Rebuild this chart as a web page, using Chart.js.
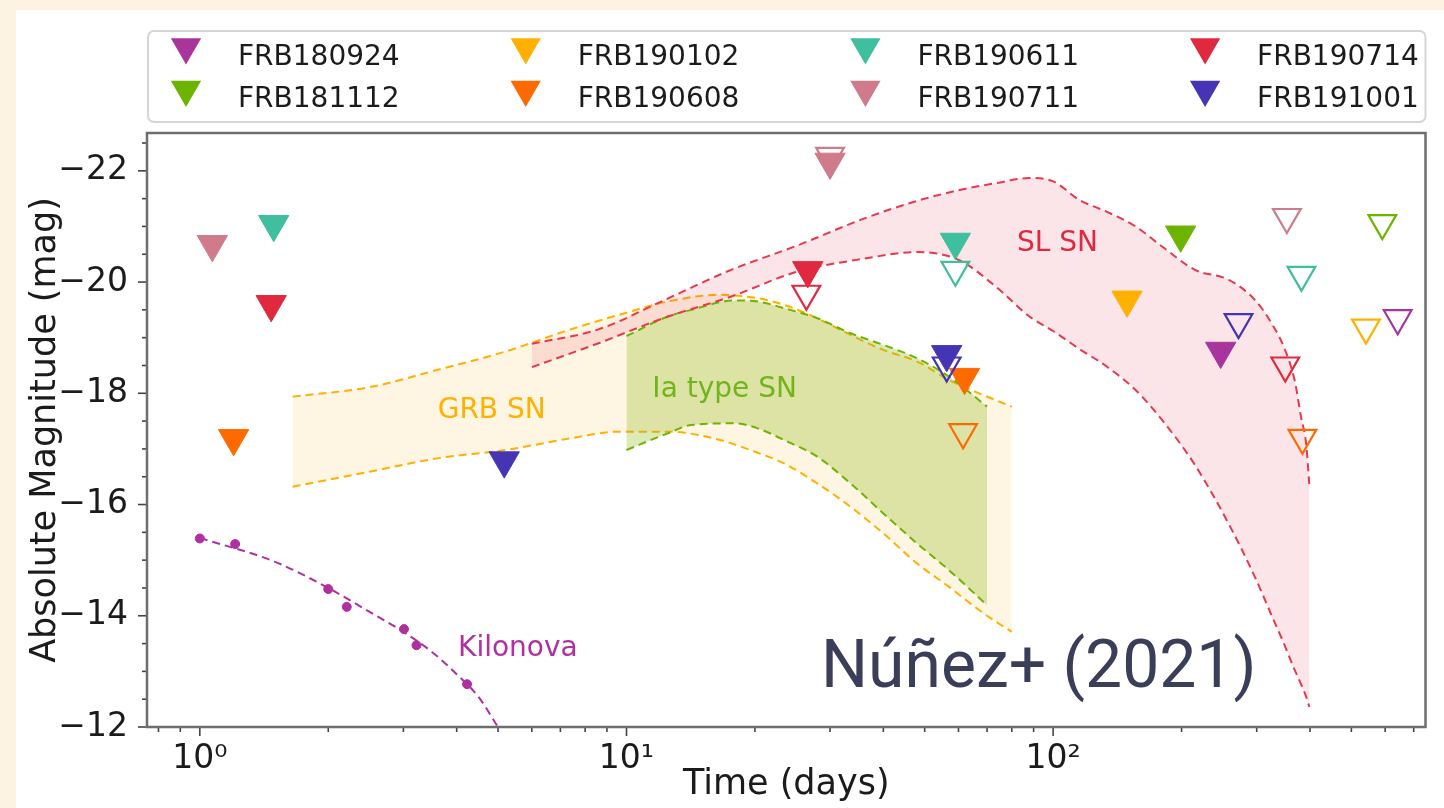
<!DOCTYPE html>
<html>
<head>
<meta charset="utf-8">
<title>FRB optical limits vs transient light curves</title>
<script src="https://cdn.jsdelivr.net/npm/chart.js@4.4.1/dist/chart.umd.min.js"></script>
<style>
  html, body { margin: 0; padding: 0; background: #fdf3e3; overflow: hidden; }
  .panel { position: absolute; left: 16px; top: 10px; right: 0; bottom: 0; background: #ffffff; }
  #lc { position: absolute; left: 0; top: 0; }
</style>
</head>
<body>
<div class="panel"></div>
<canvas id="lc" width="1444" height="808"></canvas>
<script>
// ---- data: time since burst (days), absolute magnitude ----

const frbNames = ['FRB180924', 'FRB181112', 'FRB190102', 'FRB190608',
                  'FRB190611', 'FRB190711', 'FRB190714', 'FRB191001'];

// filled triangles = first-epoch limits, open triangles = later epochs
const frb180924Filled = [[247, -18.76]];
const frb180924Open   = [[642, -19.35]];
const frb181112Filled = [[199, -20.85]];
const frb181112Open   = [[591, -21.06]];
const frb190102Filled = [[149, -19.68]];
const frb190102Open   = [[541, -19.18]];
const frb190608Filled = [[1.2, -17.19], [62, -18.29]];
const frb190608Open   = [[61.5, -17.30], [384, -17.20]];
const frb190611Filled = [[1.49, -21.04], [59, -20.72]];
const frb190611Open   = [[59, -20.22], [382, -20.13]];
const frb190711Filled = [[1.07, -20.68], [30, -22.16]];
const frb190711Open   = [[30, -22.27], [353, -21.17]];
const frb190714Filled = [[1.47, -19.60], [26.6, -20.21]];
const frb190714Open   = [[26.4, -19.79], [350, -18.50]];
const frb191001Filled = [[5.17, -16.79], [56.3, -18.70]];
const frb191001Open   = [[56.3, -18.50], [272, -19.28]];

// kilonova photometry and model curve
const kilonovaDays = [1.0, 1.21, 2.0, 2.21, 3.01, 3.22, 4.23];
const kilonovaMag  = [-15.39, -15.29, -14.48, -14.16, -13.76, -13.47, -12.77];
const kilonovaModelDays = [1, 1.5, 2, 2.5, 3, 3.5, 4, 4.5, 5];
const kilonovaModelMag  = [-15.40, -14.97, -14.50, -14.07, -13.71, -13.35, -12.95, -12.54, -12.0];

// GRB supernovae envelope
const grbDays   = [1.65, 2.5, 3.6, 5.2, 7.4, 9.6, 12.5, 16.4, 20.3, 23.4, 28, 33.5, 40, 48, 57, 68.5, 80];
const grbBright = [-17.94, -18.11, -18.42, -18.75, -19.15, -19.41, -19.65, -19.77, -19.71, -19.59,
                   -19.35, -19.05, -18.78, -18.57, -18.24, -17.97, -17.76];
const grbFaint  = [-16.32, -16.59, -16.83, -16.98, -17.19, -17.31, -17.31, -17.17, -16.93, -16.74,
                   -16.38, -15.96, -15.48, -14.94, -14.52, -14.05, -13.71];

// type Ia supernovae envelope
const iaDays   = [10, 12.5, 14.2, 17.9, 20.3, 23.4, 28, 33.5, 40, 48, 57, 70];
const iaBright = [-19.03, -19.38, -19.50, -19.67, -19.65, -19.53, -19.35, -19.08, -18.87, -18.63, -18.30, -17.76];
const iaFaint  = [-16.98, -17.28, -17.43, -17.46, -17.37, -17.16, -16.86, -16.38, -15.84, -15.30, -14.82, -14.19];

// superluminous supernovae envelope
const slDays   = [6, 8.6, 12.3, 17.6, 25, 36, 48, 60, 73.6, 88, 100, 115, 133, 156, 180, 215,
                  258, 297, 325, 347, 368, 381, 392, 398.5];
const slBright = [-18.89, -19.15, -19.68, -20.22, -20.65, -21.14, -21.46, -21.65, -21.78, -21.87, -21.81,
                  -21.48, -21.27, -21.00, -20.64, -20.22, -20.04, -19.68, -19.26, -18.84, -18.24,
                  -17.58, -17.07, -16.36];
const slFaint  = [-18.47, -18.90, -19.36, -19.74, -20.18, -20.42, -20.54, -20.40, -19.91, -19.38, -19.12,
                  -18.80, -18.49, -18.06, -17.52, -16.71, -15.65, -14.70, -14.01, -13.51, -13.03,
                  -12.77, -12.54, -12.36];

// axis ticks
const magTickLabels = [-22, -20, -18, -16, -14, -12];
const dayTickLabels = [1, 10, 100];

// ---- styling ----
const FONT = 'DejaVu Sans';
Chart.defaults.font.family = FONT;

const frbColors = ['#a8359c', '#6db400', '#ffb000', '#ff6a00', '#3fbf9e', '#cf7b8c', '#e0283f', '#4535b5'];
const filledSets = [frb180924Filled, frb181112Filled, frb190102Filled, frb190608Filled,
                    frb190611Filled, frb190711Filled, frb190714Filled, frb191001Filled];
const openSets = [frb180924Open, frb181112Open, frb190102Open, frb190608Open,
                  frb190611Open, frb190711Open, frb190714Open, frb191001Open];

const toPoints = pairs => pairs.map(p => ({ x: p[0], y: p[1] }));
const zip = (xs, ys) => xs.map((x, i) => ({ x: x, y: ys[i] }));

const datasets = [];

// open limits on top of filled ones
frbNames.forEach((name, i) => {
  datasets.push({
    label: name + ' (late)',
    data: toPoints(openSets[i]),
    showLine: false,
    pointStyle: 'triangle',
    pointRotation: 180,
    pointRadius: 16,
    pointBackgroundColor: 'rgba(255,255,255,0)',
    pointBorderColor: frbColors[i],
    pointBorderWidth: 2.2,
    borderColor: frbColors[i]
  });
});
frbNames.forEach((name, i) => {
  datasets.push({
    label: name,
    legendEntry: true,
    data: toPoints(filledSets[i]),
    showLine: false,
    pointStyle: 'triangle',
    pointRotation: 180,
    pointRadius: 17.5,
    pointBackgroundColor: frbColors[i],
    pointBorderColor: frbColors[i],
    pointBorderWidth: 1,
    borderColor: frbColors[i]
  });
});

datasets.push({
  label: 'Kilonova',
  data: zip(kilonovaDays, kilonovaMag),
  showLine: false,
  pointRadius: 4.5,
  pointBackgroundColor: '#b0309f',
  pointBorderColor: '#b0309f',
  borderColor: '#b0309f'
});
datasets.push({
  label: 'Kilonova model',
  data: zip(kilonovaModelDays, kilonovaModelMag),
  borderColor: '#b0309f',
  borderWidth: 2,
  borderDash: [8, 5],
  pointRadius: 0,
  cubicInterpolationMode: 'monotone',
  fill: false
});

// each envelope: bright edge, then faint edge filled back to it
function envelope(label, days, bright, faint, lineColor, fillColor) {
  const edge = {
    borderColor: lineColor,
    borderWidth: 2,
    borderDash: [8, 5],
    pointRadius: 0,
    cubicInterpolationMode: 'monotone'
  };
  datasets.push(Object.assign({ label: label + ' bright', data: zip(days, bright), fill: false }, edge));
  datasets.push(Object.assign({ label: label + ' faint', data: zip(days, faint), fill: '-1',
                                backgroundColor: fillColor }, edge));
}
envelope('SL SN', slDays, slBright, slFaint, '#e8384e', 'rgba(230, 40, 70, 0.12)');
envelope('Ia type SN', iaDays, iaBright, iaFaint, '#6fb400', 'rgba(140, 185, 20, 0.30)');
envelope('GRB SN', grbDays, grbBright, grbFaint, '#ffb000', 'rgba(255, 200, 100, 0.18)');

// ---- helpers for ticks ----
const SUP = { '0': '\u2070', '1': '\u00b9', '2': '\u00b2', '3': '\u00b3' };
const isDecade = v => Math.abs(Math.log10(v) - Math.round(Math.log10(v))) < 1e-9;
const isMagMajor = v => magTickLabels.some(m => Math.abs(m - v) < 1e-9);

function dayTicks(min, max) {
  const out = [];
  for (let n = -1; n <= 3; n++) {
    for (let k = 1; k <= 9; k++) {
      const v = k * Math.pow(10, n);
      if (v >= min && v <= max) out.push({ value: v });
    }
  }
  return out;
}
function magTicks(min, max) {
  const out = [];
  for (let v = Math.ceil(min * 2) / 2; v <= max + 1e-9; v += 0.5) out.push({ value: v });
  return out;
}

// text labels for each population
const populationLabels = [
  { text: 'GRB SN', day: 3.61, mag: -17.55, color: '#ffb000' },
  { text: 'Ia type SN', day: 11.5, mag: -17.94, color: '#72b41c' },
  { text: 'SL SN', day: 82.3, mag: -20.55, color: '#e0283f' },
  { text: 'Kilonova', day: 4.03, mag: -13.28, color: '#b0309f' }
];

const populationText = {
  id: 'populationText',
  afterDatasetsDraw(chart) {
    const { ctx, scales: { x, y } } = chart;
    ctx.save();
    ctx.font = '28px "' + FONT + '"';
    ctx.textBaseline = 'alphabetic';
    ctx.textAlign = 'left';
    populationLabels.forEach(l => {
      ctx.fillStyle = l.color;
      ctx.fillText(l.text, x.getPixelForValue(l.day), y.getPixelForValue(l.mag));
    });
    ctx.restore();
  }
};

function triangleDown(ctx, cx, cy, r) {
  ctx.beginPath();
  ctx.moveTo(cx, cy + r);
  ctx.lineTo(cx - r * Math.sin(Math.PI / 3), cy - r / 2);
  ctx.lineTo(cx + r * Math.sin(Math.PI / 3), cy - r / 2);
  ctx.closePath();
}

// frame, outward tick marks, legend box and credit line
const decorations = {
  id: 'decorations',
  afterDraw(chart) {
    const { ctx, chartArea: a, scales: { x, y } } = chart;
    ctx.save();

    ctx.strokeStyle = '#444';
    ctx.lineWidth = 1.6;
    x.ticks.forEach(t => {
      const px = x.getPixelForValue(t.value);
      const len = isDecade(t.value) ? 9 : 5;
      ctx.beginPath(); ctx.moveTo(px, a.bottom); ctx.lineTo(px, a.bottom + len); ctx.stroke();
    });
    y.ticks.forEach(t => {
      const py = y.getPixelForValue(t.value);
      const len = isMagMajor(t.value) ? 9 : 5;
      ctx.beginPath(); ctx.moveTo(a.left, py); ctx.lineTo(a.left - len, py); ctx.stroke();
    });

    ctx.strokeStyle = '#6e6e6e';
    ctx.lineWidth = 2.5;
    ctx.strokeRect(a.left, a.top, a.right - a.left, a.bottom - a.top);

    // legend, four columns filled top-to-bottom
    ctx.strokeStyle = '#d6d6d6';
    ctx.lineWidth = 2;
    ctx.beginPath();
    ctx.roundRect(a.left + 1, 31, a.right - a.left - 1, 91, 6);
    ctx.stroke();

    const entries = chart.data.datasets.filter(d => d.legendEntry);
    ctx.font = '28px "' + FONT + '"';
    ctx.textBaseline = 'alphabetic';
    ctx.textAlign = 'left';
    entries.forEach((d, i) => {
      const col = Math.floor(i / 2), row = i % 2;
      const cx = 186 + col * 339.7;
      ctx.fillStyle = d.pointBackgroundColor;
      triangleDown(ctx, cx, 47 + row * 42.5, 17.5);
      ctx.fill();
      ctx.fillStyle = '#1b1b1b';
      ctx.fillText(d.label, 238 + col * 339.7, 65 + row * 42);
    });

    ctx.font = '66px Roboto';
    ctx.fillStyle = '#3a3e58';
    ctx.fillText('N\u00fa\u00f1ez+ (2021)', 821, 687);
    ctx.restore();
  }
};

new Chart(document.getElementById('lc'), {
  type: 'line',
  data: { datasets: datasets },
  options: {
    responsive: false,
    animation: false,
    events: [],
    layout: { padding: { left: 0, top: 133, right: 13, bottom: 0 } },
    plugins: {
      legend: { display: false },
      tooltip: { enabled: false }
    },
    scales: {
      x: {
        type: 'logarithmic',
        min: 0.752,
        max: 746,
        afterBuildTicks: s => { s.ticks = dayTicks(s.min, s.max); },
        afterFit: s => { s.height = 81; },
        grid: { display: false },
        border: { display: false },
        ticks: {
          autoSkip: false,
          maxRotation: 0,
          padding: 5,
          color: '#1b1b1b',
          font: { size: 33 },
          callback: v => (isDecade(v) && dayTickLabels.some(d => Math.abs(d - v) < 1e-9))
            ? '10' + SUP[String(Math.round(Math.log10(v)))] : ''
        },
        title: {
          display: true,
          text: 'Time (days)',
          color: '#1b1b1b',
          font: { size: 35 },
          padding: { top: 0, bottom: 2 }
        }
      },
      y: {
        type: 'linear',
        reverse: true,
        min: -22.68,
        max: -12,
        afterBuildTicks: s => { s.ticks = magTicks(s.min, s.max); },
        afterFit: s => { s.width = 147; },
        grid: { display: false },
        border: { display: false },
        ticks: {
          autoSkip: false,
          padding: 11,
          color: '#1b1b1b',
          font: { size: 33 },
          callback: v => isMagMajor(v) ? '\u2212' + Math.abs(v) : ''
        },
        title: {
          display: true,
          text: 'Absolute Magnitude (mag)',
          color: '#1b1b1b',
          font: { size: 35 },
          padding: { top: 25, bottom: 0 }
        }
      }
    }
  },
  plugins: [populationText, decorations]
});
</script>
</body>
</html>
